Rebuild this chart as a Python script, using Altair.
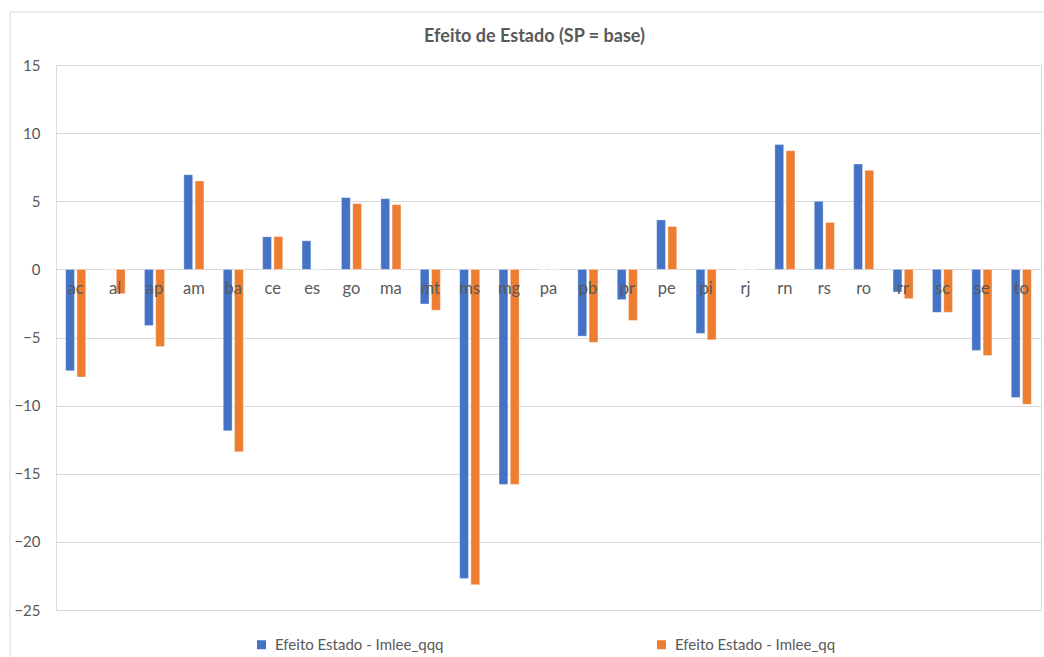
import altair as alt
import pandas as pd

states = ["ac", "al", "ap", "am", "ba", "ce", "es", "go", "ma", "mt", "ms", "mg", "pa",
          "pb", "pr", "pe", "pi", "rj", "rn", "rs", "ro", "rr", "sc", "se", "to"]
qqq = [-7.44, 0.0, -4.12, 6.95, -11.85, 2.39, 2.10, 5.27, 5.19, -2.54, -22.68, -15.78, 0.0,
       -4.90, -2.22, 3.63, -4.70, 0.0, 9.17, 5.00, 7.73, -1.66, -3.15, -5.95, -9.41]
qq = [-7.90, -1.78, -5.66, 6.49, -13.39, 2.41, 0.0, 4.83, 4.75, -3.00, -23.14, -15.78, 0.0,
      -5.36, -3.75, 3.15, -5.17, 0.0, 8.71, 3.44, 7.27, -2.15, -3.15, -6.32, -9.90]
series = ["Efeito Estado - Imlee_qqq", "Efeito Estado - Imlee_qq"]
colors = ["#4472C4", "#ED7D31"]
y_ticks = [15, 10, 5, 0, -5, -10, -15, -20, -25]

rows = []
for i, s in enumerate(states):
    rows.append({"estado": s, "serie": series[0], "valor": qqq[i]})
    rows.append({"estado": s, "serie": series[1], "valor": qq[i]})
df = pd.DataFrame(rows)
labels_df = pd.DataFrame({"estado": states, "zero": [0] * len(states)})

FONT = "Lato"
TXT = "#595959"

x_enc = alt.X("estado:N", sort=states,
              scale=alt.Scale(paddingInner=0.49, paddingOuter=0.245),
              axis=None)

bars = alt.Chart(df).mark_bar(stroke="white", strokeWidth=0.6, strokeOpacity=0.6).encode(
    x=x_enc,
    xOffset=alt.XOffset("serie:N", sort=series,
                        scale=alt.Scale(paddingInner=0.214, paddingOuter=0)),
    y=alt.Y("valor:Q",
            scale=alt.Scale(domain=[-25, 15], nice=False, zero=False),
            axis=alt.Axis(values=y_ticks, title=None, domain=False, ticks=False,
                          labelPadding=16, labelFont=FONT, labelFontSize=15,
                          labelColor=TXT, gridColor="#D9D9D9", gridWidth=1)),
    color=alt.Color("serie:N", sort=series,
                    scale=alt.Scale(domain=series, range=colors),
                    legend=alt.Legend(title=None, orient="none", legendX=198, legendY=572,
                                      direction="horizontal", columns=2,
                                      columnPadding=210, symbolType="square",
                                      symbolSize=81, symbolStrokeWidth=0,
                                      labelFont=FONT, labelFontSize=15, labelLimit=400,
                                      labelColor=TXT, labelOffset=6, padding=0)),
)

cat_labels = alt.Chart(labels_df).mark_text(
    dy=20, font=FONT, fontSize=16.5, color=TXT, baseline="middle", align="center"
).encode(
    x=alt.X("estado:N", sort=states),
    y=alt.Y("zero:Q"),
    text="estado:N",
)

border = alt.Chart(labels_df).mark_rect(
    fill=None, stroke="#D9D9D9", strokeWidth=1, clip=False
).encode(
    x=alt.value(-46), x2=alt.value(994), y=alt.value(-53), y2=alt.value(600)
).transform_filter(alt.datum.estado == "ac")

chart = alt.layer(border, bars, cat_labels).properties(
    width=985, height=545,
    padding={"left": 56, "top": 65, "right": 3, "bottom": 47},
    autosize=alt.AutoSizeParams(type="none"),
    title=alt.TitleParams("Efeito de Estado (SP = base)", font=FONT, fontSize=18,
                          fontWeight="bold", color=TXT, anchor="middle", dx=-14,
                          offset=-34),
).configure_view(stroke=None).configure(background="white")

chart.save("out.html", embed_options={"renderer": "svg", "actions": False})
